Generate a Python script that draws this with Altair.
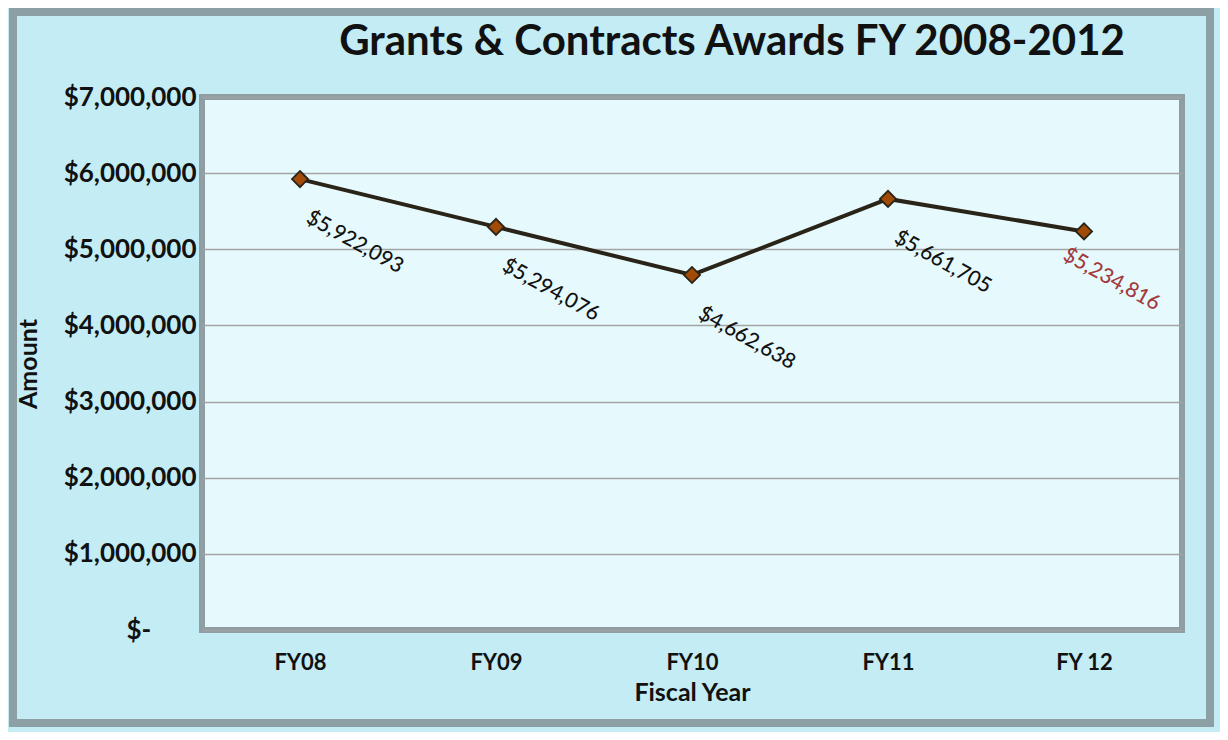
import altair as alt
import pandas as pd

years = ["FY08", "FY09", "FY10", "FY11", "FY 12"]
amounts = [5922093, 5294076, 4662638, 5661705, 5234816]
label_colors = ["black", "black", "black", "black", "red"]
y_ticks = [0, 1000000, 2000000, 3000000, 4000000, 5000000, 6000000, 7000000]

df = pd.DataFrame({"year": years, "amount": amounts, "lc": label_colors})
df["label"] = df["amount"].map(lambda v: "${:,}".format(v))

FONT = "Lato"

x = alt.X("year:N", sort=years, title="Fiscal Year",
          scale=alt.Scale(paddingOuter=0.5, paddingInner=0),
          axis=alt.Axis(labelAngle=0, labelFontSize=22, labelFontWeight="bold",
                        labelColor="#111", labelPadding=22, ticks=False, domain=False,
                        titleFontSize=25, titleFontWeight="bold", titleColor="#111",
                        titlePadding=7))
y = alt.Y("amount:Q", title="Amount",
          scale=alt.Scale(domain=[0, 7000000]),
          axis=alt.Axis(values=y_ticks, labelFontSize=26, labelFontWeight="bold",
                        labelColor="#111", labelPadding=6, ticks=False, domain=False,
                        labelExpr="datum.value == 0 ? '$-\u2007\u2007\u2007\u200b' : '$' + format(datum.value, ',')",
                        gridColor="#a3a3a3", gridWidth=1.5,
                        titleFontSize=25, titleFontWeight="bold", titleColor="#111",
                        titlePadding=22))

base = alt.Chart(df)

frame = base.mark_rect(fill=None, stroke="#8c9fa4", strokeWidth=8).encode(
    x=alt.value(-189), x2=alt.value(1008), y=alt.value(-85), y2=alt.value(626)
).transform_filter("datum.year == 'FY08'")

line = base.mark_line(color="#2a2418", strokeWidth=4).encode(x=x, y=y)
pts = base.mark_point(shape="diamond", filled=True, size=260, fill="#a14b07",
                      stroke="#2a2418", strokeWidth=1.8, opacity=1).encode(x=x, y=y)

txt_black = base.transform_filter("datum.lc == 'black'").mark_text(
    angle=29, align="left", baseline="middle", dx=25, dy=29,
    fontSize=21, font=FONT, fontWeight=500, color="#111").encode(x=x, y=y, text="label:N")
txt_red = base.transform_filter("datum.lc == 'red'").mark_text(
    angle=29, align="left", baseline="middle", dx=-6, dy=29,
    fontSize=21, font=FONT, fontWeight=500, color="#a33b3e").encode(x=x, y=y, text="label:N")

chart = alt.layer(frame, line, pts, txt_black, txt_red).properties(
    width=980, height=533,
    title=alt.TitleParams("Grants & Contracts Awards FY 2008-2012", fontSize=42,
                          font=FONT, fontWeight="bold", color="#111",
                          anchor="middle", offset=-56, dx=40),
    autosize=alt.AutoSizeParams(type="none"),
    padding={"left": 194, "top": 89, "right": 38, "bottom": 102},
    background="#c3ecf5",
).configure_view(fill="#e6fafe", stroke="#8e9ea2", strokeWidth=6
).configure_axis(labelFont=FONT, titleFont=FONT
).configure_text(font=FONT)

chart.save("out.html", embed_options={"renderer": "svg", "actions": False})
